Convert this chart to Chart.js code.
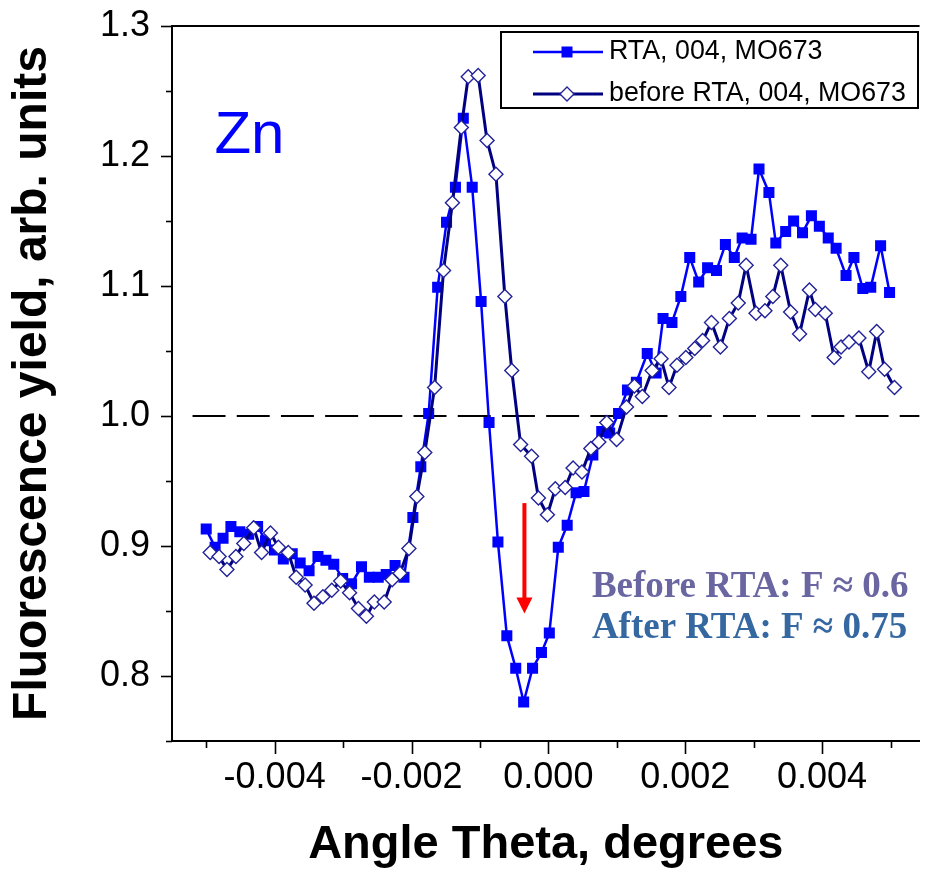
<!DOCTYPE html>
<html>
<head>
<meta charset="utf-8">
<script src="https://cdn.jsdelivr.net/npm/chart.js@4.4.1/dist/chart.umd.min.js"></script>
<style>
  html, body { margin: 0; padding: 0; background: #ffffff; overflow: hidden; }
  canvas { display: block; }
</style>
</head>
<body>
<canvas id="chart" width="928" height="872"></canvas>
<script>
// Rocking-curve scan of the Zn fluorescence yield, sample MO673, 004 reflection.
// Angle offsets are in degrees; yields are normalised (arb. units).

const thetaRTA = [
  -0.005000, -0.004870, -0.004754, -0.004639, -0.004509, -0.004379, -0.004249, -0.004133, -0.004003, -0.003873,
  -0.003743, -0.003627, -0.003497, -0.003367, -0.003251, -0.003136, -0.003006, -0.002876, -0.002731, -0.002616,
  -0.002486, -0.002370, -0.002240, -0.002110, -0.001980, -0.001864, -0.001749, -0.001618, -0.001488, -0.001358,
  -0.001243, -0.001113, -0.000983, -0.000867, -0.000737, -0.000607, -0.000477, -0.000361, -0.000231, -0.000101,
   0.000014,  0.000145,  0.000275,  0.000405,  0.000520,  0.000650,  0.000780,  0.000896,  0.001026,  0.001156,
   0.001286,  0.001445,  0.001575,  0.001676,  0.001806,  0.001936,  0.002066,  0.002197,  0.002327,  0.002457,
   0.002587,  0.002717,  0.002832,  0.002962,  0.003078,  0.003223,  0.003324,  0.003468,  0.003584,  0.003714,
   0.003844,  0.003960,  0.004090,  0.004205,  0.004350,  0.004465,  0.004595,  0.004711,  0.004855,  0.004986
];
const yieldRTA = [
  0.913, 0.899, 0.906, 0.915, 0.911, 0.909, 0.915, 0.904, 0.897, 0.890,
  0.894, 0.887, 0.881, 0.892, 0.889, 0.886, 0.875, 0.871, 0.884, 0.876,
  0.876, 0.878, 0.885, 0.876, 0.922, 0.961, 1.002, 1.099, 1.149, 1.176,
  1.229, 1.176, 1.088, 0.995, 0.903, 0.831, 0.806, 0.780, 0.806, 0.818,
  0.833, 0.899, 0.916, 0.941, 0.942, 0.970, 0.988, 0.987, 1.002, 1.020,
  1.026, 1.048, 1.033, 1.075, 1.072, 1.092, 1.122, 1.103, 1.114, 1.112,
  1.132, 1.122, 1.137, 1.136, 1.190, 1.172, 1.133, 1.142, 1.150, 1.141,
  1.154, 1.146, 1.137, 1.129, 1.108, 1.122, 1.098, 1.099, 1.131, 1.095
];

const thetaBefore = [
  -0.004942, -0.004812, -0.004697, -0.004566, -0.004451, -0.004306, -0.004191, -0.004061, -0.003945, -0.003801,
  -0.003685, -0.003555, -0.003425, -0.003295, -0.003165, -0.003035, -0.002905, -0.002775, -0.002659, -0.002543,
  -0.002399, -0.002283, -0.002168, -0.002038, -0.001922, -0.001806, -0.001662, -0.001532, -0.001402, -0.001272,
  -0.001171, -0.001026, -0.000896, -0.000766, -0.000636, -0.000535, -0.000405, -0.000246, -0.000145, -0.000014,
   0.000101,  0.000246,  0.000361,  0.000491,  0.000621,  0.000737,  0.000853,  0.000997,  0.001142,  0.001257,
   0.001373,  0.001517,  0.001647,  0.001763,  0.001879,  0.002009,  0.002139,  0.002254,  0.002384,  0.002514,
   0.002645,  0.002775,  0.002890,  0.003035,  0.003165,  0.003280,  0.003396,  0.003540,  0.003671,  0.003815,
   0.003902,  0.004046,  0.004176,  0.004277,  0.004393,  0.004538,  0.004682,  0.004798,  0.004913,  0.005058
];
const yieldBefore = [
  0.895, 0.892, 0.882, 0.892, 0.902, 0.914, 0.895, 0.910, 0.899, 0.895,
  0.876, 0.870, 0.856, 0.861, 0.866, 0.873, 0.864, 0.852, 0.846, 0.857,
  0.857, 0.874, 0.879, 0.898, 0.938, 0.972, 1.022, 1.112, 1.164, 1.222,
  1.261, 1.262, 1.212, 1.186, 1.092, 1.035, 0.978, 0.969, 0.937, 0.924,
  0.944, 0.945, 0.960, 0.957, 0.975, 0.980, 0.995, 0.982, 1.007, 1.023,
  1.015, 1.035, 1.044, 1.022, 1.039, 1.045, 1.052, 1.058, 1.072, 1.053,
  1.075, 1.087, 1.116, 1.079, 1.081, 1.092, 1.116, 1.080, 1.063, 1.097,
  1.082, 1.079, 1.045, 1.053, 1.057, 1.060, 1.034, 1.065, 1.036, 1.022
];

// Unity reference level
const unitySpan = [-0.0052, 0.005425];
const unityLevel = [1.0, 1.0];

// Dip marker arrow (angle, start and end yield)
const arrowTheta = [-0.00035];
const arrowYield = [0.933, 0.848];

const xTickLabels = ['-0.004', '-0.002', '0.000', '0.002', '0.004'];
const yTickLabels = ['0.8', '0.9', '1.0', '1.1', '1.2', '1.3'];
const seriesNames = ['RTA, 004, MO673', 'before RTA, 004, MO673'];
const elementLabel = ['Zn'];
const noteLines = ['Before RTA: F \u2248 0.6', 'After RTA: F \u2248 0.75'];

const pairs = (xs, ys) => xs.map((x, i) => ({ x: x, y: ys[i] }));

const SANS = "'Liberation Sans', Arial, sans-serif";
const SERIF = "'Liberation Serif', 'Times New Roman', serif";

const decorations = {
  id: 'decorations',
  afterDraw(chart) {
    const { ctx, chartArea: a, scales: { x, y } } = chart;
    ctx.save();

    // top frame line
    ctx.strokeStyle = '#000';
    ctx.lineWidth = 2;
    ctx.beginPath();
    ctx.moveTo(a.left - 1, a.top);
    ctx.lineTo(a.right, a.top);
    ctx.stroke();

    // outward tick marks, long for labelled ticks
    ctx.lineWidth = 1.6;
    y.ticks.forEach(t => {
      const p = Math.round(y.getPixelForValue(t.value)) + 0.5;
      const len = t.label ? 11 : 6;
      ctx.beginPath();
      ctx.moveTo(a.left - len, p);
      ctx.lineTo(a.left, p);
      ctx.stroke();
    });
    x.ticks.forEach(t => {
      const p = Math.round(x.getPixelForValue(t.value)) + 0.5;
      const len = t.label ? 13 : 7;
      ctx.beginPath();
      ctx.moveTo(p, a.bottom);
      ctx.lineTo(p, a.bottom + len);
      ctx.stroke();
    });

    // red arrow pointing into the dip
    const ax = x.getPixelForValue(arrowTheta[0]);
    const ay0 = y.getPixelForValue(arrowYield[0]);
    const ay1 = y.getPixelForValue(arrowYield[1]);
    ctx.strokeStyle = '#ff0000';
    ctx.fillStyle = '#ff0000';
    ctx.lineWidth = 4;
    ctx.beginPath();
    ctx.moveTo(ax, ay0);
    ctx.lineTo(ax, ay1 - 14);
    ctx.stroke();
    ctx.beginPath();
    ctx.moveTo(ax - 8, ay1 - 16);
    ctx.lineTo(ax + 8, ay1 - 16);
    ctx.lineTo(ax, ay1);
    ctx.closePath();
    ctx.fill();

    // element label
    ctx.fillStyle = '#0000ff';
    ctx.font = '60px ' + SANS;
    ctx.textAlign = 'left';
    ctx.textBaseline = 'alphabetic';
    ctx.fillText(elementLabel[0], x.getPixelForValue(-0.00488), y.getPixelForValue(1.2023));

    // figure notes
    ctx.font = 'bold 37px ' + SERIF;
    ctx.fillStyle = '#6a66a2';
    ctx.fillText(noteLines[0], x.getPixelForValue(0.000636), y.getPixelForValue(0.8608));
    ctx.fillStyle = '#3567a0';
    ctx.fillText(noteLines[1], x.getPixelForValue(0.000636), y.getPixelForValue(0.8292));

    // legend box
    const lg = { left: 501, top: 32, right: 918, bottom: 108 };
    ctx.fillStyle = '#ffffff';
    ctx.fillRect(lg.left, lg.top, lg.right - lg.left, lg.bottom - lg.top);
    ctx.strokeStyle = '#000';
    ctx.lineWidth = 2;
    ctx.strokeRect(lg.left, lg.top, lg.right - lg.left, lg.bottom - lg.top);

    const rows = [
      { y: 52, ds: chart.data.datasets[1] },
      { y: 94, ds: chart.data.datasets[0] }
    ];
    rows.forEach(r => {
      const ds = r.ds;
      ctx.strokeStyle = ds.borderColor;
      ctx.lineWidth = ds.borderWidth;
      ctx.beginPath();
      ctx.moveTo(533, r.y);
      ctx.lineTo(603, r.y);
      ctx.stroke();
      const mx = 567;
      if (ds.pointStyle === 'rect') {
        const s = 11;
        ctx.fillStyle = ds.pointBackgroundColor;
        ctx.fillRect(mx - s / 2, r.y - s / 2, s, s);
      } else {
        const h = 7;
        ctx.beginPath();
        ctx.moveTo(mx - h, r.y);
        ctx.lineTo(mx, r.y - h);
        ctx.lineTo(mx + h, r.y);
        ctx.lineTo(mx, r.y + h);
        ctx.closePath();
        ctx.fillStyle = ds.pointBackgroundColor;
        ctx.fill();
        ctx.strokeStyle = ds.pointBorderColor;
        ctx.lineWidth = ds.pointBorderWidth;
        ctx.stroke();
      }
      ctx.fillStyle = '#000';
      ctx.font = '26.8px ' + SANS;
      ctx.textAlign = 'left';
      ctx.textBaseline = 'middle';
      ctx.fillText(ds.label, 609, r.y);
    });

    ctx.restore();
  }
};

new Chart(document.getElementById('chart'), {
  type: 'line',
  data: {
    datasets: [
      {
        label: seriesNames[1],
        data: pairs(thetaBefore, yieldBefore),
        borderColor: '#000080',
        borderWidth: 3,
        tension: 0,
        pointStyle: 'rectRot',
        pointRadius: 7,
        pointBackgroundColor: '#ffffff',
        pointBorderColor: '#22229a',
        pointBorderWidth: 1.4,
        order: 0
      },
      {
        label: seriesNames[0],
        data: pairs(thetaRTA, yieldRTA),
        borderColor: '#0000ff',
        borderWidth: 2.5,
        tension: 0,
        pointStyle: 'rect',
        pointRadius: 7.8,
        pointBackgroundColor: '#0000ff',
        pointBorderColor: '#0000ff',
        pointBorderWidth: 0,
        order: 1
      },
      {
        label: 'unity',
        data: pairs(unitySpan, unityLevel),
        borderColor: '#000000',
        borderWidth: 2,
        borderDash: [33, 11.2],
        pointRadius: 0,
        tension: 0,
        order: 2
      }
    ]
  },
  options: {
    responsive: false,
    animation: false,
    events: [],
    layout: { padding: { top: 26, left: 0, right: 0, bottom: 0 } },
    plugins: { legend: { display: false }, tooltip: { enabled: false } },
    scales: {
      x: {
        type: 'linear',
        min: -0.0055,
        max: 0.005425,
        afterFit: s => { s.height = 131; s.paddingLeft = 0; s.paddingRight = 0; },
        grid: { display: false, drawTicks: false, tickLength: 0 },
        border: { display: true, color: '#000', width: 2 },
        ticks: {
          stepSize: 0.001,
          includeBounds: false,
          autoSkip: false,
          maxRotation: 0,
          minRotation: 0,
          padding: 15,
          color: '#000',
          font: { family: SANS, size: 36 },
          callback: v => {
            const s = (Math.round(v * 10000) / 10000).toFixed(3);
            return xTickLabels.includes(s) ? s : '';
          }
        },
        title: {
          display: true,
          text: 'Angle Theta, degrees',
          color: '#000',
          font: { family: SANS, size: 47, weight: 'bold', lineHeight: 1 },
          padding: { top: 0, bottom: 3 }
        }
      },
      y: {
        type: 'linear',
        min: 0.75,
        max: 1.3,
        afterFit: s => { s.width = 172; s.paddingTop = 0; s.paddingBottom = 0; },
        grid: { display: false, drawTicks: false, tickLength: 0 },
        border: { display: true, color: '#000', width: 2 },
        ticks: {
          stepSize: 0.05,
          autoSkip: false,
          padding: 22,
          color: '#000',
          font: { family: SANS, size: 36 },
          callback: v => {
            const s = (Math.round(v * 100) / 100).toFixed(1);
            const isMajor = Math.round(v * 100) % 10 === 0;
            return isMajor && yTickLabels.includes(s) ? s : '';
          }
        },
        title: {
          display: true,
          text: 'Fluorescence yield, arb. units',
          color: '#000',
          font: { family: SANS, size: 48, weight: 'bold', lineHeight: 1 },
          padding: { top: 9, bottom: 0 }
        }
      }
    }
  },
  plugins: [decorations]
});
</script>
</body>
</html>
